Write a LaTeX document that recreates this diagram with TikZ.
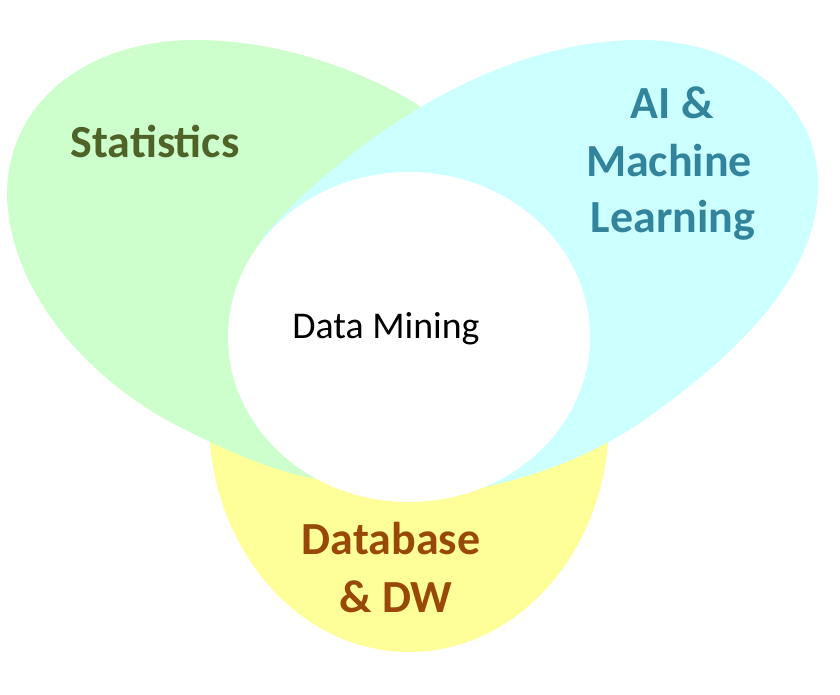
\documentclass[tikz,border=0pt]{standalone}
\usepackage{fontspec}
\setmainfont{Carlito}
\definecolor{grfill}{HTML}{CCFFCC}
\definecolor{cyfill}{HTML}{CCFFFF}
\definecolor{ylfill}{HTML}{FFFF99}
\definecolor{grtext}{HTML}{4F6228}
\definecolor{cytext}{HTML}{31849B}
\definecolor{yltext}{HTML}{984807}
\begin{document}
\begin{tikzpicture}[x=1pt,y=-1pt,
  lbl/.style={font=\bfseries\fontsize{46}{56}\selectfont, anchor=base, inner sep=0pt},
  dmlbl/.style={font=\fontsize{37.8}{45}\selectfont, anchor=base, inner sep=0pt, text=black}]
\useasboundingbox (0,0) rectangle (840,695);
\fill[white] (0,0) rectangle (840,695);
% yellow (Database)
\fill[ylfill] (409,420) ellipse [x radius=200, y radius=232];
% green (Statistics)
\fill[grfill] (7,195) .. controls (7,100) and (90,40) .. (195,40)
  .. controls (280,40) and (360,70) .. (415,103)
  .. controls (480,150) and (470,330) .. (400,470)
  .. controls (360,490) and (300,488) .. (190,432)
  .. controls (100,390) and (10,300) .. (7,195) -- cycle;
% cyan (AI & ML)
\fill[cyfill] (640,40) .. controls (740,40) and (818,100) .. (818,185)
  .. controls (818,280) and (730,360) .. (640,423)
  .. controls (580,463) and (520,480) .. (470,490)
  .. controls (380,510) and (280,470) .. (260,420)
  .. controls (235,370) and (230,290) .. (263,237)
  .. controls (330,160) and (480,40) .. (640,40) -- cycle;
% white core
\fill[white] (409,337) ellipse [x radius=181, y radius=165];
% labels
\node[lbl, text=grtext] (stat) at (155,158) {Statistics};
\node[lbl, text=cytext] (ai1) at (672,119) {AI \&};
\node[lbl, text=cytext] (ai2) at (669,177) {Machine};
\node[lbl, text=cytext] (ai3) at (673,232) {Learning};
\node[lbl, text=yltext] (db1) at (391,554) {Database};
\node[lbl, text=yltext] (db2) at (396,612) {\& DW};
\node[dmlbl] (dm) at (386,338) {Data Mining};
\end{tikzpicture}
\end{document}
